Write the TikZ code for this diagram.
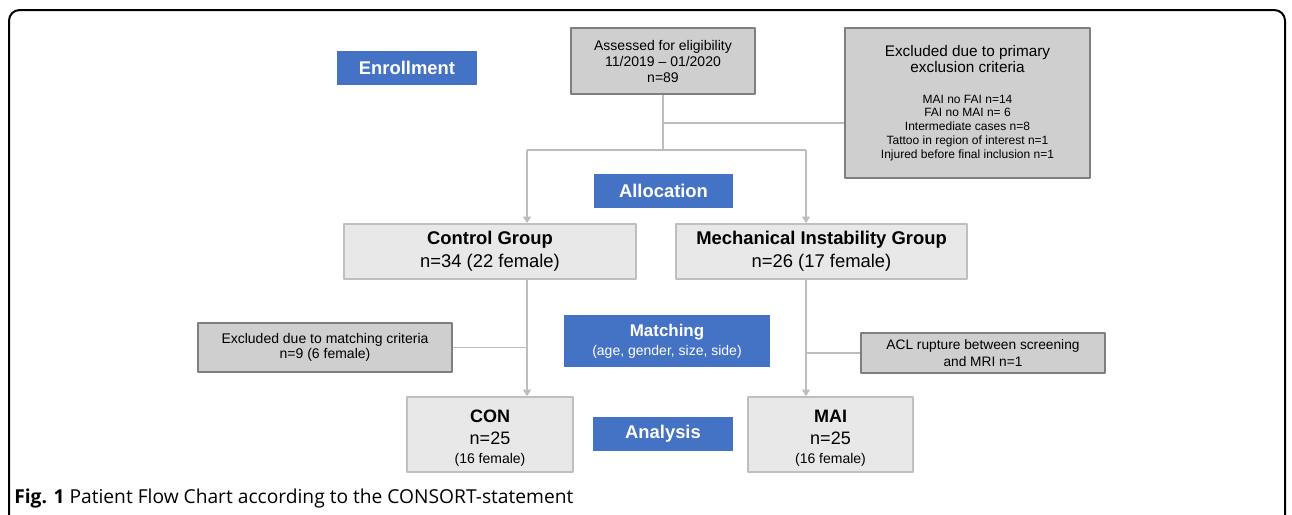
\documentclass[tikz,border=0pt]{standalone}
\usepackage{fontspec}
\setmainfont{Liberation Sans}
\newfontfamily\capfont{Open Sans}
\usetikzlibrary{arrows.meta}
\definecolor{stageblue}{HTML}{4472C4}
\definecolor{exclfill}{HTML}{CFCFCF}
\definecolor{exclline}{HTML}{7F7F7F}
\definecolor{grpfill}{HTML}{E8E8E8}
\definecolor{grpline}{HTML}{BFBFBF}
\definecolor{flowgray}{HTML}{BDBDBD}
\begin{document}
\begin{tikzpicture}[x=0.75pt,y=-0.75pt,line join=round,
  stage/.style={fill=stageblue,text=white,inner sep=0pt,align=center,font=\bfseries\fontsize{13.8}{16}\selectfont},
  exclbox/.style={draw=exclline,fill=exclfill,line width=1.5pt,inner sep=0pt,align=center},
  grpbox/.style={draw=grpline,fill=grpfill,line width=1.5pt,inner sep=0pt,align=center},
  flow/.style={draw=flowgray,line width=1.2pt},
  flowarrow/.style={flow,-{Triangle[width=6pt,length=5pt]}}]
\useasboundingbox (0,0) rectangle (1292,514);
\fill[white] (0,0) rectangle (1292,514);
\draw[line width=1.5pt,rounded corners=8pt] (9,520)--(9,10)--(1285,10)--(1285,520);

\node[stage,minimum width=105pt,minimum height=25.5pt] (enroll) at (407,68) {Enrollment};
\node[exclbox,minimum width=138pt,minimum height=49.5pt,font=\fontsize{10.5}{12}\selectfont] (assess) at (663,61)
  {Assessed for eligibility\\11/2019 -- 01/2020\\n=89};
\node[exclbox,minimum width=184pt,minimum height=112.5pt,font=\fontsize{9}{10.3}\selectfont] (exclA) at (967.5,103)
  {{\fontsize{11.5}{13.3}\selectfont Excluded due to primary}\\[0pt]
   {\fontsize{11.5}{13.3}\selectfont exclusion criteria}\\[13pt]
   MAI no FAI n=14\\
   FAI no MAI n= 6\\
   Intermediate cases n=8\\
   Tattoo in region of interest n=1\\
   Injured before final inclusion n=1};
\node[stage,minimum width=104pt,minimum height=25.5pt] (alloc) at (663.5,191) {Allocation};
\node[grpbox,minimum width=219pt,minimum height=41pt,font=\fontsize{13.8}{17.5}\selectfont] (ctrl) at (490,251.5)
  {\textbf{Control Group}\\n=34 (22 female)};
\node[grpbox,minimum width=218pt,minimum height=41pt,font=\fontsize{13.8}{17.5}\selectfont] (mig) at (821.5,251.5)
  {\textbf{Mechanical Instability Group}\\n=26 (17 female)};
\node[exclbox,minimum width=190pt,minimum height=37pt,font=\fontsize{10.5}{11.3}\selectfont] (exclM) at (325,347.5)
  {Excluded due to matching criteria\\n=9 (6 female)};
\node[stage,minimum width=154.5pt,minimum height=39pt] (match) at (667,341)
  {\fontsize{12.7}{14}\selectfont Matching\\[-2pt]\mdseries\fontsize{10.5}{12}\selectfont (age, gender, size, side)};
\node[exclbox,minimum width=183pt,minimum height=30pt,font=\fontsize{10.3}{12.5}\selectfont] (acl) at (983,353)
  {ACL rupture between screening\\and MRI n=1};
\node[grpbox,minimum width=124pt,minimum height=56pt] (con) at (490,434.5)
  {\fontsize{13.5}{16}\selectfont\rule{0pt}{15pt}\textbf{CON}\\[4pt]\fontsize{13.5}{16}\selectfont n=25\\[2.5pt]\fontsize{10.5}{14}\selectfont (16 female)};
\node[stage,minimum width=105pt,minimum height=25.5pt] (analysis) at (663,434) {Analysis};
\node[grpbox,minimum width=124pt,minimum height=56pt] (mai) at (830.5,434.5)
  {\fontsize{13.5}{16}\selectfont\rule{0pt}{15pt}\textbf{MAI}\\[4pt]\fontsize{13.5}{16}\selectfont n=25\\[2.5pt]\fontsize{10.5}{14}\selectfont (16 female)};

\coordinate (split) at (663,123);
\coordinate (fork) at (663,150);
\coordinate (forkL) at (527,150);
\coordinate (forkR) at (806,150);
\draw[flow] (assess) -- (fork);
\draw[flow] (split) -- (split -| exclA.west);
\draw[flow] (forkL) -- (forkR);
\draw[flowarrow] (forkL) -- (forkL |- ctrl.north);
\draw[flowarrow] (forkR) -- (forkR |- mig.north);
\draw[flowarrow] (forkL |- ctrl.south) -- (forkL |- con.north);
\draw[flow] (exclM.east) -- (exclM.east -| forkL);
\draw[flowarrow] (forkR |- mig.south) -- (forkR |- mai.north);
\draw[flow] (acl.west -| forkR) -- (acl.west);

\node[anchor=base west,inner sep=0pt,font=\capfont\fontsize{14.4}{17}\selectfont] (caption) at (14,503)
  {\textbf{Fig. 1} Patient Flow Chart according to the CONSORT-statement};
\end{tikzpicture}
\end{document}
